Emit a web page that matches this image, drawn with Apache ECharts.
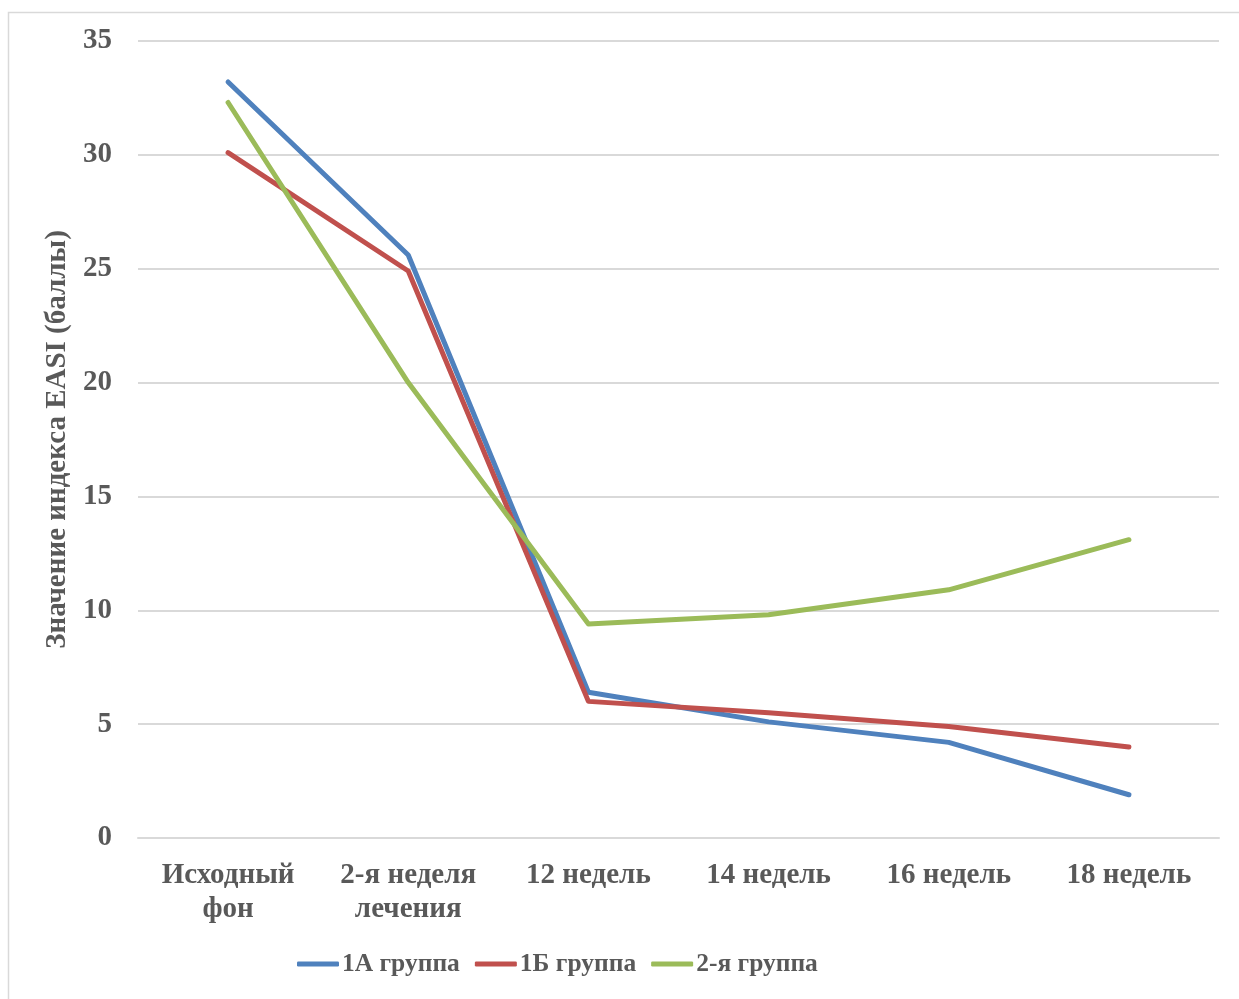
<!DOCTYPE html>
<html>
<head>
<meta charset="utf-8">
<script src="https://cdn.jsdelivr.net/npm/echarts@6/dist/echarts.min.js"></script>
<style>
  html, body { margin: 0; padding: 0; background: #ffffff; }
  #chart { width: 1239px; height: 999px; }
</style>
</head>
<body>
<div id="chart"></div>
<script>
// Time points of observation
const categories = ['Исходный\nфон', '2-я неделя\nлечения', '12 недель', '14 недель', '16 недель', '18 недель'];

// EASI index values per group
const group1A = [33.2, 25.6, 6.4, 5.1, 4.2, 1.9];
const group1B = [30.1, 24.9, 6.0, 5.5, 4.9, 4.0];
const group2  = [32.3, 20.0, 9.4, 9.8, 10.9, 13.1];

const seriesNames = ['1А группа', '1Б группа', '2-я группа'];
const yTicks = { min: 0, max: 35, interval: 5 };
const yTitle = 'Значение индекса EASI (баллы)';

const textColor = '#595959';
const fontFamily = '"Liberation Serif", "Times New Roman", serif';

const chart = echarts.init(document.getElementById('chart'), null, { renderer: 'canvas' });

function lineSeries(name, data, color) {
  return {
    name: name,
    type: 'line',
    data: data,
    showSymbol: false,
    symbol: 'none',
    color: color,
    lineStyle: { width: 5, color: color, cap: 'round', join: 'round' },
    emphasis: { disabled: true },
    animation: false
  };
}

chart.setOption({
  backgroundColor: '#ffffff',
  animation: false,
  graphic: [{
    type: 'rect',
    shape: { x: 8.5, y: 12.5, width: 1300, height: 1100 },
    style: { fill: 'none', stroke: '#d9d9d9', lineWidth: 1.5 },
    silent: true,
    z: -10
  }],
  grid: { left: 138, right: 20, top: 41, bottom: 161, containLabel: false },
  legend: {
    bottom: 17,
    left: 292,
    itemWidth: 42,
    itemHeight: 5,
    itemGap: 15,
    icon: 'roundRect',
    textStyle: { fontFamily: fontFamily, fontWeight: 'bold', fontSize: 25.5, color: textColor, padding: [0, 0, 0, -2] },
    data: seriesNames
  },
  xAxis: {
    type: 'category',
    data: categories,
    boundaryGap: true,
    axisLine: { show: true, lineStyle: { color: '#d9d9d9', width: 2 } },
    axisTick: { show: false },
    axisLabel: {
      interval: 0,
      margin: 21,
      fontFamily: fontFamily,
      fontWeight: 'bold',
      fontSize: 29,
      lineHeight: 34,
      color: textColor
    }
  },
  yAxis: {
    type: 'value',
    min: yTicks.min,
    max: yTicks.max,
    interval: yTicks.interval,
    name: yTitle,
    nameLocation: 'middle',
    nameGap: 58,
    nameTextStyle: { fontFamily: fontFamily, fontWeight: 'bold', fontSize: 29, color: textColor },
    axisLine: { show: false },
    axisTick: { show: false },
    splitLine: { lineStyle: { color: '#d9d9d9', width: 2 } },
    axisLabel: {
      margin: 26,
      fontFamily: fontFamily,
      fontWeight: 'bold',
      fontSize: 29,
      color: textColor
    }
  },
  series: [
    lineSeries(seriesNames[0], group1A, '#4f81bd'),
    lineSeries(seriesNames[1], group1B, '#c0504d'),
    lineSeries(seriesNames[2], group2, '#9bbb59')
  ]
});
</script>
</body>
</html>
